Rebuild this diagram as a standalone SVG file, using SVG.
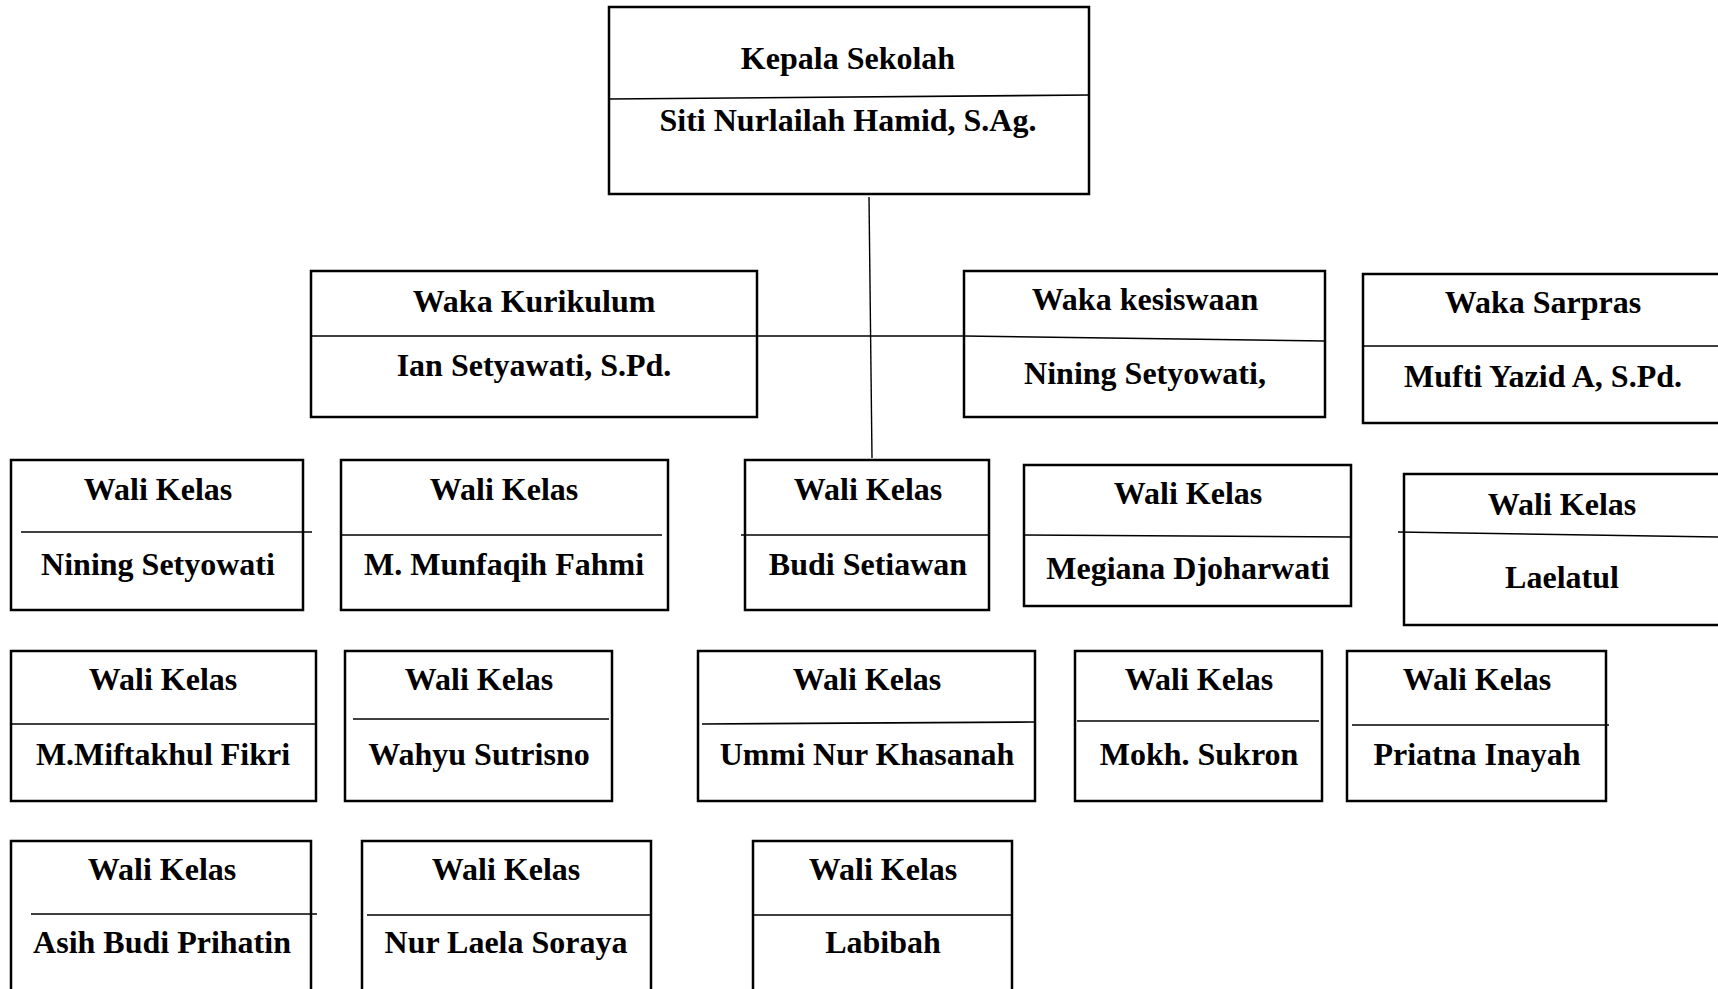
<svg xmlns="http://www.w3.org/2000/svg" width="1718" height="989" viewBox="0 0 1718 989">
<style>
.box{fill:#fff;stroke:#000;stroke-width:2.5}
.div{stroke:#000;stroke-width:1.6;fill:none}
.con{stroke:#000;stroke-width:1.4;fill:none}
text{font-family:"Liberation Serif","Times New Roman",serif;font-weight:bold;font-size:32px;text-anchor:middle;fill:#000}
</style>
<rect width="1718" height="989" fill="#fff"/>
<g id="connectors">
<line class="con" x1="869" y1="197" x2="872" y2="458"/>
<line class="con" x1="757" y1="336" x2="964" y2="336"/>
</g>
<g id="kepala">
<rect class="box" x="609" y="7" width="480" height="187"/>
<line class="div" x1="609" y1="99" x2="1090" y2="95"/>
<text x="848" y="69">Kepala Sekolah</text>
<text x="848" y="131">Siti Nurlailah Hamid, S.Ag.</text>
</g>
<g id="waka-kurikulum">
<rect class="box" x="311" y="271" width="446" height="146"/>
<line class="div" x1="311" y1="336" x2="757" y2="336"/>
<text x="534" y="312">Waka Kurikulum</text>
<text x="534" y="376">Ian Setyawati, S.Pd.</text>
</g>
<g id="waka-kesiswaan">
<rect class="box" x="964" y="271" width="361" height="146"/>
<line class="div" x1="964" y1="336" x2="1325" y2="341"/>
<text x="1145" y="310">Waka kesiswaan</text>
<text x="1145" y="384">Nining Setyowati,</text>
</g>
<g id="waka-sarpras">
<rect class="box" x="1363" y="274" width="370" height="149"/>
<line class="div" x1="1363" y1="346" x2="1720" y2="346"/>
<text x="1543" y="313">Waka Sarpras</text>
<text x="1543" y="387">Mufti Yazid A, S.Pd.</text>
</g>
<g id="wk-nining">
<rect class="box" x="11" y="460" width="292" height="150"/>
<line class="div" x1="21" y1="532" x2="312" y2="532"/>
<text x="158" y="500">Wali Kelas</text>
<text x="158" y="575">Nining Setyowati</text>
</g>
<g id="wk-munfaqih">
<rect class="box" x="341" y="460" width="327" height="150"/>
<line class="div" x1="341" y1="535" x2="662" y2="535"/>
<text x="504" y="500">Wali Kelas</text>
<text x="504" y="575">M. Munfaqih Fahmi</text>
</g>
<g id="wk-budi">
<rect class="box" x="745" y="460" width="244" height="150"/>
<line class="div" x1="741" y1="535" x2="989" y2="535"/>
<text x="868" y="500">Wali Kelas</text>
<text x="868" y="575">Budi Setiawan</text>
</g>
<g id="wk-megiana">
<rect class="box" x="1024" y="465" width="327" height="141"/>
<line class="div" x1="1024" y1="535" x2="1351" y2="537"/>
<text x="1188" y="504">Wali Kelas</text>
<text x="1188" y="579">Megiana Djoharwati</text>
</g>
<g id="wk-laelatul">
<rect class="box" x="1404" y="474" width="330" height="151"/>
<line class="div" x1="1398" y1="532" x2="1720" y2="537"/>
<text x="1562" y="515">Wali Kelas</text>
<text x="1562" y="588">Laelatul</text>
</g>
<g id="wk-miftakhul">
<rect class="box" x="11" y="651" width="305" height="150"/>
<line class="div" x1="11" y1="724" x2="316" y2="724"/>
<text x="163" y="690">Wali Kelas</text>
<text x="163" y="765">M.Miftakhul Fikri</text>
</g>
<g id="wk-wahyu">
<rect class="box" x="345" y="651" width="267" height="150"/>
<line class="div" x1="353" y1="719" x2="609" y2="719"/>
<text x="479" y="690">Wali Kelas</text>
<text x="479" y="765">Wahyu Sutrisno</text>
</g>
<g id="wk-ummi">
<rect class="box" x="698" y="651" width="337" height="150"/>
<line class="div" x1="702" y1="724" x2="1034" y2="722"/>
<text x="867" y="690">Wali Kelas</text>
<text x="867" y="765">Ummi Nur Khasanah</text>
</g>
<g id="wk-mokh">
<rect class="box" x="1075" y="651" width="247" height="150"/>
<line class="div" x1="1077" y1="721" x2="1319" y2="721"/>
<text x="1199" y="690">Wali Kelas</text>
<text x="1199" y="765">Mokh. Sukron</text>
</g>
<g id="wk-priatna">
<rect class="box" x="1347" y="651" width="259" height="150"/>
<line class="div" x1="1352" y1="725" x2="1609" y2="725"/>
<text x="1477" y="690">Wali Kelas</text>
<text x="1477" y="765">Priatna Inayah</text>
</g>
<g id="wk-asih">
<rect class="box" x="11" y="841" width="300" height="160"/>
<line class="div" x1="31" y1="914" x2="317" y2="914"/>
<text x="162" y="880">Wali Kelas</text>
<text x="162" y="953">Asih Budi Prihatin</text>
</g>
<g id="wk-nurlaela">
<rect class="box" x="362" y="841" width="289" height="160"/>
<line class="div" x1="367" y1="915" x2="651" y2="915"/>
<text x="506" y="880">Wali Kelas</text>
<text x="506" y="953">Nur Laela Soraya</text>
</g>
<g id="wk-labibah">
<rect class="box" x="753" y="841" width="259" height="160"/>
<line class="div" x1="753" y1="915" x2="1012" y2="915"/>
<text x="883" y="880">Wali Kelas</text>
<text x="883" y="953">Labibah</text>
</g>
</svg>
